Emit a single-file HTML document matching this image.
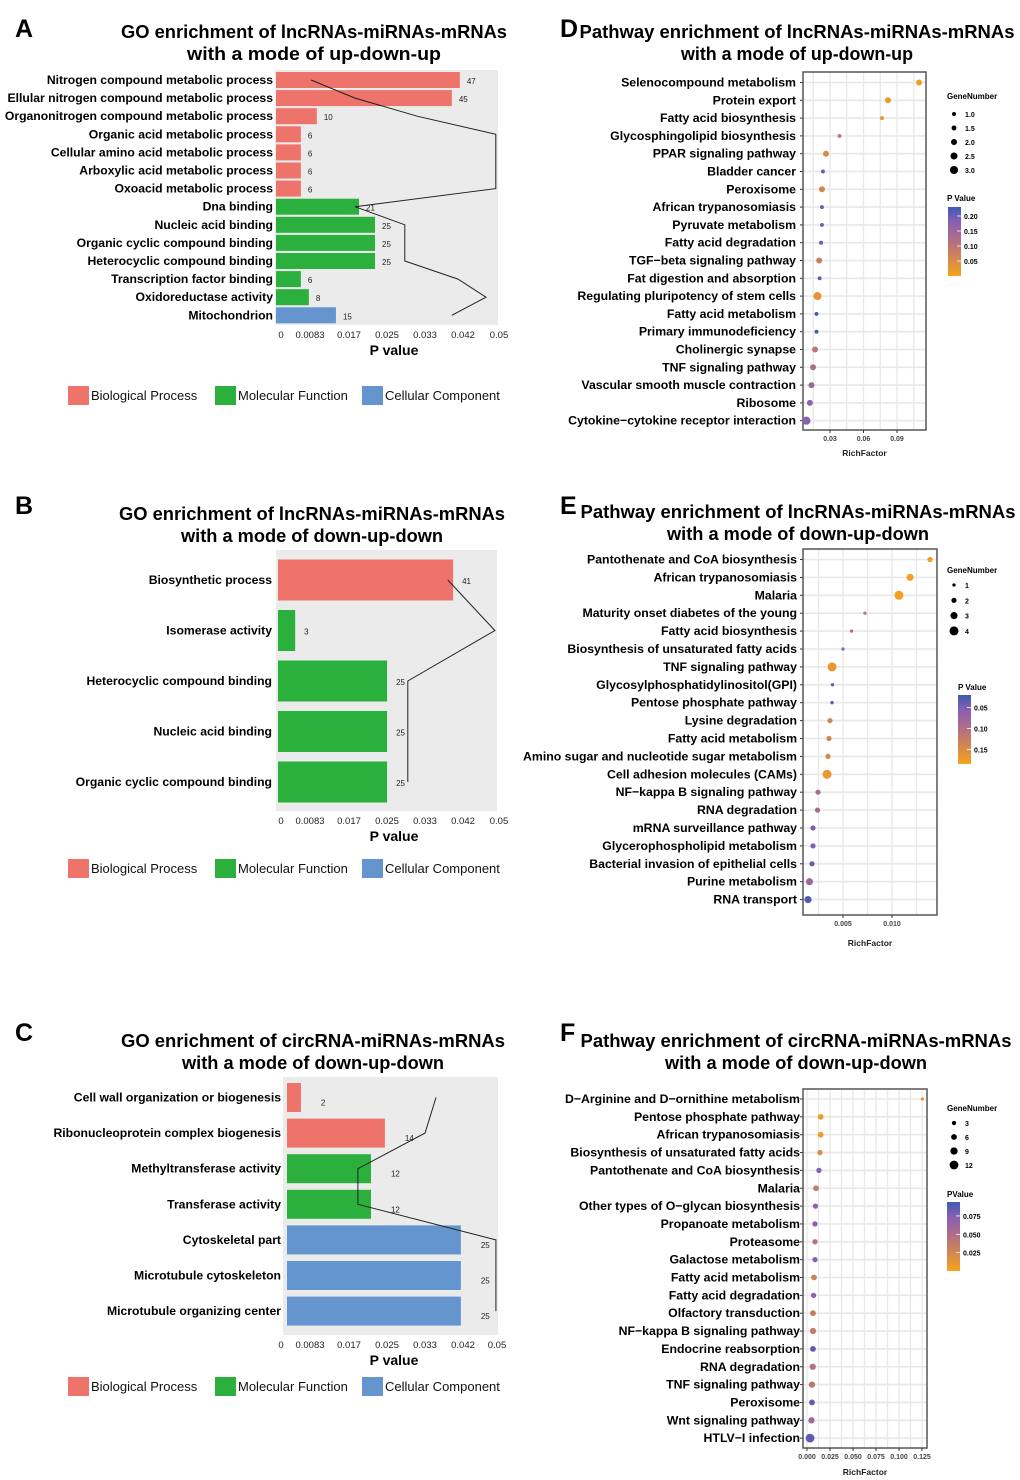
<!DOCTYPE html>
<html><head><meta charset="utf-8"><style>
html,body{margin:0;padding:0;background:#fff;}
svg{display:block;font-family:"Liberation Sans",Arial,sans-serif;}
</style></head><body>
<svg id="fig" width="1020" height="1480" viewBox="0 0 1020 1480" xmlns="http://www.w3.org/2000/svg">
<defs>
<linearGradient id="cbar" x1="0" y1="1" x2="0" y2="0">
<stop offset="0" stop-color="#f7a21b"/><stop offset="0.5" stop-color="#b36f82"/><stop offset="0.78" stop-color="#8a5fb2"/><stop offset="1" stop-color="#3d5bb2"/>
</linearGradient>
</defs>
</svg>
<script>
// ---------- Panel A data ----------
const aCats = ["Nitrogen compound metabolic process","Ellular nitrogen compound metabolic process","Organonitrogen compound metabolic process","Organic acid metabolic process","Cellular amino acid metabolic process","Arboxylic acid metabolic process","Oxoacid metabolic process","Dna binding","Nucleic acid binding","Organic cyclic compound binding","Heterocyclic compound binding","Transcription factor binding","Oxidoreductase activity","Mitochondrion"];
const aPvals = [0.0414,0.0396,0.0092,0.0056,0.0056,0.0056,0.0056,0.0187,0.0223,0.0223,0.0223,0.0056,0.0074,0.0135];
const aCounts = [47,45,10,6,6,6,6,21,25,25,25,6,8,15];
const aTypes = ["BP","BP","BP","BP","BP","BP","BP","MF","MF","MF","MF","MF","MF","CC"];
const aLine = [0.0079,0.0178,0.0318,0.0495,0.0495,0.0495,0.0495,0.0178,0.029,0.029,0.029,0.041,0.0473,0.0396];
// ---------- Panel B data ----------
const bCats = ["Biosynthetic process","Isomerase activity","Heterocyclic compound binding","Nucleic acid binding","Organic cyclic compound binding"];
const bPvals = [0.0398,0.0039,0.0248,0.0248,0.0248];
const bCounts = [41,3,25,25,25];
const bTypes = ["BP","MF","MF","MF","MF"];
const bLine = [0.0386,0.0493,0.0295,0.0295,0.0295];
// ---------- Panel C data ----------
const cCats = ["Cell wall organization or biogenesis","Ribonucleoprotein complex biogenesis","Methyltransferase activity","Transferase activity","Cytoskeletal part","Microtubule cytoskeleton","Microtubule organizing center"];
const cPvals = [0.0033,0.0232,0.0199,0.0199,0.0412,0.0412,0.0412];
const cCounts = [2,14,12,12,25,25,25];
const cTypes = ["BP","BP","MF","MF","CC","CC","CC"];
const cLine = [0.0353,0.0327,0.0168,0.0168,0.0495,0.0495,0.0495];
const pTicks = ["0","0.0083","0.017","0.025","0.033","0.042","0.05"];
// ---------- Panel D data ----------
const dCats = ["Selenocompound metabolism","Protein export","Fatty acid biosynthesis","Glycosphingolipid biosynthesis","PPAR signaling pathway","Bladder cancer","Peroxisome","African trypanosomiasis","Pyruvate metabolism","Fatty acid degradation","TGF\u2212beta signaling pathway","Fat digestion and absorption","Regulating pluripotency of stem cells","Fatty acid metabolism","Primary immunodeficiency","Cholinergic synapse","TNF signaling pathway","Vascular smooth muscle contraction","Ribosome","Cytokine\u2212cytokine receptor interaction"];
const dRich = [0.1097,0.0819,0.0765,0.0385,0.0264,0.0237,0.0228,0.0228,0.0228,0.022,0.0203,0.0207,0.0188,0.0179,0.0179,0.0166,0.0148,0.0134,0.012,0.0089];
const dGenes = [2,2,1,1,2,1,2,1,1,1,2,1,3,1,1,2,2,2,2,3];
const dP = [0.01,0.02,0.03,0.1,0.05,0.2,0.06,0.2,0.2,0.21,0.08,0.21,0.03,0.23,0.23,0.1,0.12,0.15,0.17,0.18];
const dTicks = [0.03,0.06,0.09];
const dSizeLegend = [1.0,1.5,2.0,2.5,3.0];
const dColorTicks = [0.20,0.15,0.10,0.05];
// ---------- Panel E data ----------
const eCats = ["Pantothenate and CoA biosynthesis","African trypanosomiasis","Malaria","Maturity onset diabetes of the young","Fatty acid biosynthesis","Biosynthesis of unsaturated fatty acids","TNF signaling pathway","Glycosylphosphatidylinositol(GPI)","Pentose phosphate pathway","Lysine degradation","Fatty acid metabolism","Amino sugar and nucleotide sugar metabolism","Cell adhesion molecules (CAMs)","NF\u2212kappa B signaling pathway","RNA degradation","mRNA surveillance pathway","Glycerophospholipid metabolism","Bacterial invasion of epithelial cells","Purine metabolism","RNA transport"];
const eRich = [0.01388,0.01184,0.01071,0.00724,0.00587,0.005,0.00388,0.00392,0.00388,0.00367,0.00357,0.00347,0.00337,0.00245,0.0024,0.00194,0.00194,0.00184,0.00158,0.00143];
const eGenes = [2,3,4,1,1,1,4,1,1,2,2,2,4,2,2,2,2,2,3,3];
const eP = [0.18,0.18,0.18,0.12,0.1,0.06,0.17,0.03,0.03,0.14,0.14,0.14,0.17,0.09,0.09,0.05,0.05,0.04,0.08,0.03];
const eTicks = [0.005,0.010];
const eSizeLegend = [1,2,3,4];
const eColorTicks = [0.05,0.10,0.15];
// ---------- Panel F data ----------
const fCats = ["D\u2212Arginine and D\u2212ornithine metabolism","Pentose phosphate pathway","African trypanosomiasis","Biosynthesis of unsaturated fatty acids","Pantothenate and CoA biosynthesis","Malaria","Other types of O\u2212glycan biosynthesis","Propanoate metabolism","Proteasome","Galactose metabolism","Fatty acid metabolism","Fatty acid degradation","Olfactory transduction","NF\u2212kappa B signaling pathway","Endocrine  reabsorption","RNA degradation","TNF signaling pathway","Peroxisome","Wnt signaling pathway","HTLV\u2212I infection"];
const fRich = [0.1255,0.0149,0.0149,0.0141,0.013,0.0098,0.0092,0.0087,0.0087,0.0087,0.0076,0.0071,0.0065,0.0065,0.0065,0.0062,0.0054,0.0054,0.0049,0.0033];
const fGenes = [1,6,6,5,5,6,5,5,5,5,6,5,6,7,6,7,7,6,7,12];
const fP = [0.01,0.005,0.005,0.02,0.075,0.035,0.07,0.07,0.045,0.075,0.03,0.07,0.035,0.035,0.085,0.045,0.04,0.085,0.06,0.085];
const fTicks = ["0.000","0.025","0.050","0.075","0.100","0.125"];
const fTickVals = [0,0.025,0.05,0.075,0.1,0.125];
const fSizeLegend = [3,6,9,12];
const fColorTicks = [0.075,0.050,0.025];

const svg = document.getElementById('fig');
const NS = 'http://www.w3.org/2000/svg';
function mk(tag, attrs, parent){
  const e = document.createElementNS(NS, tag);
  for (const k in attrs) e.setAttribute(k, attrs[k]);
  (parent||svg).appendChild(e);
  return e;
}
function txt(s, attrs, parent){ const t = mk('text', attrs, parent); t.textContent = s; return t; }
const typeColor = {BP:'#ee736b', MF:'#2bb03d', CC:'#6595cf'};
function lerp(a,b,t){return Math.round(a+(b-a)*t);}
function cmap(t){
  t = Math.max(0, Math.min(1, t));
  const stops = [[0,[247,162,27]],[0.5,[179,111,130]],[0.78,[138,95,178]],[1,[61,91,178]]];
  for (let i=1;i<stops.length;i++){
    if (t<=stops[i][0]){
      const a=stops[i-1], b=stops[i], u=(t-a[0])/(b[0]-a[0]);
      return 'rgb('+lerp(a[1][0],b[1][0],u)+','+lerp(a[1][1],b[1][1],u)+','+lerp(a[1][2],b[1][2],u)+')';
    }
  }
  return 'rgb(61,91,178)';
}

[["A",15,37],["B",15,514],["C",15,1041],["D",560,37],["E",560,514],["F",560,1041]].forEach(l=>{
  const t = txt(l[0], {x:l[1], y:l[2], 'font-size':25, 'font-weight':'bold', fill:'#000'});
  
  
});

function title(lines, cx, y1, w1, w2, name){
  const g = mk('g', {});
  
  
  txt(lines[0], {x:cx, y:y1, 'text-anchor':'middle', 'font-size':18, 'font-weight':'bold', textLength:w1, lengthAdjust:'spacingAndGlyphs'}, g);
  txt(lines[1], {x:cx, y:y1+22, 'text-anchor':'middle', 'font-size':18, 'font-weight':'bold', textLength:w2, lengthAdjust:'spacingAndGlyphs'}, g);
}

function barChart(o){
  const g = mk('g', {});
  
  
  const bg = mk('rect', {x:o.bgX0, y:o.bgY0, width:o.bgX1-o.bgX0, height:o.bgY1-o.bgY0, fill:'#ebebeb'}, g);
  
  
  const xs = p => o.x0 + p/0.05*(o.x1-o.x0);
  const ys = i => o.yFirst + i*o.step;
  const pts = [];
  o.cats.forEach((c,i)=>{
    const cy = ys(i);
    const bar = mk('rect', {x:o.x0, y:cy-o.bh/2, width:xs(o.pvals[i])-o.x0, height:o.bh, fill:typeColor[o.types[i]]}, g);
    
    
    const lab = txt(c, {x:o.labelX, y:cy+4, 'text-anchor':'end', 'font-size':12.2, 'font-weight':'bold'}, g);
    
    
    const cnt = txt(String(o.counts[i]), {x:xs(o.pvals[i])+o.cntDx, y:cy+o.cntDy, 'font-size':8, fill:'#222'}, g);
    
    
    pts.push(xs(o.line[i]).toFixed(1)+','+cy.toFixed(1));
  });
  const pl = mk('polyline', {points:pts.join(' '), fill:'none', stroke:'#222', 'stroke-width':1}, g);
  
  
  pTicks.forEach((t,i)=>{
    const tk = txt(t, {x:o.tickX[i], y:o.bgY1+13, 'text-anchor':'middle', 'font-size':9.5, fill:'#222'}, g);
    
    
  });
  const xt = txt('P value', {x:394, y:o.bgY1+30, 'text-anchor':'middle', 'font-size':14, 'font-weight':'bold'}, g);
  
  
  [['Biological Process','BP',68,91],['Molecular Function','MF',215,238],['Cellular Component','CC',362,385]].forEach(l=>{
    const lg = mk('g', {}, g);
    
    
    mk('rect', {x:l[2], y:o.legY-9, width:21, height:19, fill:typeColor[l[1]]}, lg);
    txt(l[0], {x:l[3], y:o.legY+5, 'font-size':13, fill:'#111'}, lg);
  });
}

title(["GO enrichment of lncRNAs-miRNAs-mRNAs","with a mode of up-down-up"], 314, 38, 386, 254, 'title-a');
barChart({name:'panel-a', cats:aCats, pvals:aPvals, counts:aCounts, types:aTypes, line:aLine,
  bgX0:275, bgX1:498, bgY0:70, bgY1:325, x0:276, x1:498, yFirst:80, step:18.1, bh:16, labelX:273,
  cntDx:7, cntDy:4, tickX:[281,310,349,387,425,463,499], legY:395});

title(["GO enrichment of lncRNAs-miRNAs-mRNAs","with a mode of down-up-down"], 312, 520, 386, 262, 'title-b');
barChart({name:'panel-b', cats:bCats, pvals:bPvals, counts:bCounts, types:bTypes, line:bLine,
  bgX0:276, bgX1:497, bgY0:550, bgY1:811, x0:278, x1:498, yFirst:580, step:50.5, bh:41, labelX:272,
  cntDx:9, cntDy:4, tickX:[281,310,349,387,425,463,499], legY:868});

title(["GO enrichment of circRNA-miRNAs-mRNAs","with a mode of down-up-down"], 313, 1047, 384, 262, 'title-c');
barChart({name:'panel-c', cats:cCats, pvals:cPvals, counts:cCounts, types:cTypes, line:cLine,
  bgX0:283, bgX1:498, bgY0:1077, bgY1:1335, x0:287, x1:498, yFirst:1097.5, step:35.6, bh:29, labelX:281,
  cntDx:20, cntDy:8, tickX:[281,310,349,387,425,463,497], legY:1386});

function dotChart(o){
  const g = mk('g', {});
  
  
  const xs = v => o.xA + (v-o.vA)*o.k;
  const ys = i => o.yFirst + i*o.step;
  mk('rect', {x:o.bx0, y:o.by0, width:o.bx1-o.bx0, height:o.by1-o.by0, fill:'#fff'}, g);
  for (let v=o.gridStart; xs(v)<o.bx1; v+=o.gridStep){
    const x = xs(v);
    if (x<=o.bx0) continue;
    mk('line', {x1:x, x2:x, y1:o.by0, y2:o.by1, stroke:'#e8e8e8', 'stroke-width':1.3}, g);
  }
  o.cats.forEach((c,i)=>{
    const y = ys(i);
    mk('line', {x1:o.bx0, x2:o.bx1, y1:y, y2:y, stroke:'#e8e8e8', 'stroke-width':1.6}, g);
    mk('line', {x1:o.bx0-3, x2:o.bx0, y1:y, y2:y, stroke:'#333', 'stroke-width':1}, g);
    const lab = txt(c, {x:o.labelX, y:y+4, 'text-anchor':'end', 'font-size':12.3, 'font-weight':'bold'}, g);
    
    
  });
  const border = mk('rect', {x:o.bx0, y:o.by0, width:o.bx1-o.bx0, height:o.by1-o.by0, fill:'none', stroke:'#555', 'stroke-width':1.5}, g);
  
  
  o.cats.forEach((c,i)=>{
    const d = mk('circle', {cx:xs(o.rich[i]), cy:ys(i), r:o.rad(o.genes[i]), fill:cmap(o.ct(o.p[i]))}, g);
    
    
  });
  o.ticks.forEach((t,i)=>{
    const x = xs(o.tickVals[i]);
    mk('line', {x1:x, x2:x, y1:o.by1, y2:o.by1+3, stroke:'#333', 'stroke-width':1}, g);
    const tk = txt(t, {x:x, y:o.by1+11, 'text-anchor':'middle', 'font-size':7, 'font-weight':'bold', fill:'#444'}, g);
    
    
  });
  const xt = txt('RichFactor', {x:(o.bx0+o.bx1)/2, y:o.by1+o.rfDy, 'text-anchor':'middle', 'font-size':8.5, 'font-weight':'bold', fill:'#222'}, g);
  
  
  const sl = mk('g', {}, g);
  
  
  txt('GeneNumber', {x:947, y:o.gnY, 'font-size':8, 'font-weight':'bold'}, sl);
  o.sizeLeg.forEach((s,i)=>{
    const y = o.gnY + o.sz0 + i*o.szStep;
    mk('circle', {cx:954, cy:y, r:o.rad(s), fill:'#000'}, sl);
    txt(o.sizeFmt(s), {x:965, y:y+3, 'font-size':7, 'font-weight':'bold'}, sl);
  });
  const cl = mk('g', {}, g);
  
  
  txt(o.pTitle, {x:o.ptX, y:o.ptY, 'font-size':8, 'font-weight':'bold'}, cl);
  mk('rect', {x:o.cbX, y:o.cbY0, width:13, height:o.cbY1-o.cbY0, fill:'url(#cbar)'}, cl);
  o.cTicks.forEach(v=>{
    const t = o.ct(v);
    const y = o.cbY1 - t*(o.cbY1-o.cbY0);
    mk('line', {x1:o.cbX+9, x2:o.cbX+13, y1:y, y2:y, stroke:'#fff', 'stroke-width':0.8}, cl);
    txt(o.cFmt(v), {x:o.cbX+16, y:y+3, 'font-size':7, 'font-weight':'bold'}, cl);
  });
}

title(["Pathway enrichment of lncRNAs-miRNAs-mRNAs","with a mode of up-down-up"], 797, 38, 435, 232, 'title-d');
dotChart({name:'panel-d', cats:dCats, rich:dRich, genes:dGenes, p:dP,
  bx0:803, bx1:926, by0:72, by1:430, yFirst:82.5, step:17.8, xA:830, vA:0.03, k:1117, gridStart:0.015, gridStep:0.015,
  labelX:796, ticks:dTicks.map(v=>v.toFixed(2)), tickVals:dTicks, rfDy:26,
  rad:g=>0.9+g*1.05, ct:p=>p/0.23,
  gnY:99, sz0:15, szStep:14, sizeLeg:dSizeLegend, sizeFmt:s=>s.toFixed(1),
  pTitle:'P Value', ptX:947, ptY:201, cbX:948, cbY0:207, cbY1:276, cTicks:dColorTicks, cFmt:v=>v.toFixed(2)});

title(["Pathway enrichment of lncRNAs-miRNAs-mRNAs","with a mode of down-up-down"], 798, 518, 435, 262, 'title-e');
dotChart({name:'panel-e', cats:eCats, rich:eRich, genes:eGenes, p:eP,
  bx0:803, bx1:937, by0:549, by1:915, yFirst:559.5, step:17.9, xA:843, vA:0.005, k:9800, gridStart:0.0025, gridStep:0.0025,
  labelX:797, ticks:eTicks.map(v=>v.toFixed(3)), tickVals:eTicks, rfDy:31,
  rad:g=>0.7+g*0.95, ct:p=>1-(p-0.02)/0.165,
  gnY:573, sz0:12, szStep:15.3, sizeLeg:eSizeLegend, sizeFmt:s=>String(s),
  pTitle:'P Value', ptX:958, ptY:690, cbX:958, cbY0:695, cbY1:764, cTicks:eColorTicks, cFmt:v=>v.toFixed(2)});

title(["Pathway enrichment of circRNA-miRNAs-mRNAs","with a mode of down-up-down"], 796, 1047, 431, 262, 'title-f');
dotChart({name:'panel-f', cats:fCats, rich:fRich, genes:fGenes, p:fP,
  bx0:803, bx1:927, by0:1089, by1:1448, yFirst:1099, step:17.85, xA:807, vA:0, k:920, gridStart:0, gridStep:0.0125,
  labelX:800, ticks:fTicks, tickVals:fTickVals, rfDy:27,
  rad:g=>1.4+g*0.25, ct:p=>p/0.094,
  gnY:1111, sz0:12, szStep:14, sizeLeg:fSizeLegend, sizeFmt:s=>String(s),
  pTitle:'PValue', ptX:947, ptY:1197, cbX:947, cbY0:1202, cbY1:1271, cTicks:fColorTicks, cFmt:v=>v.toFixed(3)});
</script>
</body></html>
